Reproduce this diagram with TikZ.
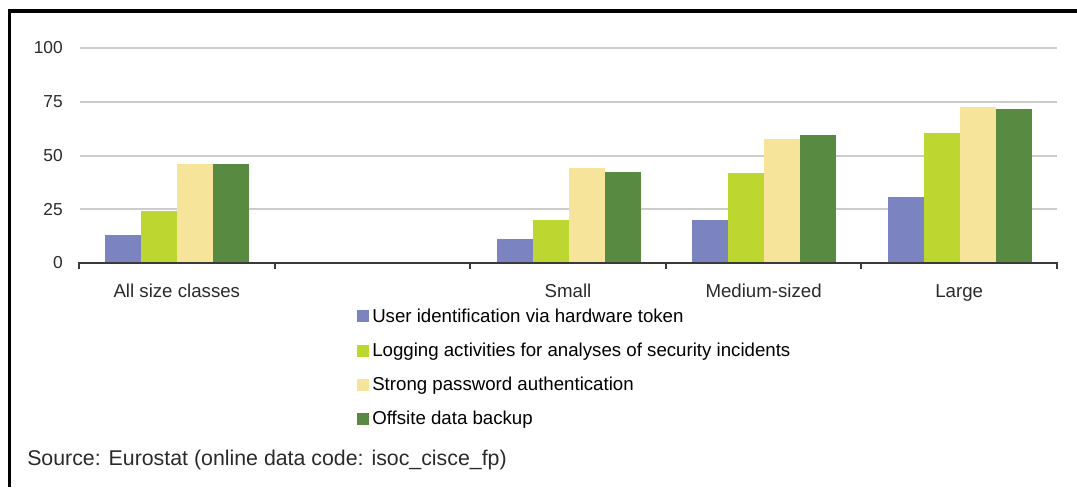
\documentclass[tikz,border=0pt]{standalone}
\usepackage{fontspec}
\setmainfont{Liberation Sans}
\definecolor{cblue}{HTML}{7B84C1}
\definecolor{clime}{HTML}{BDD630}
\definecolor{cyellow}{HTML}{F5E499}
\definecolor{cgreen}{HTML}{588A42}
\definecolor{gridgray}{HTML}{CCCCCC}
\definecolor{axisgray}{HTML}{3A3A3A}
\definecolor{labgray}{HTML}{2A2A2A}
\begin{document}
\begin{tikzpicture}[x=0.75pt,y=-0.75pt,
  gridline/.style={draw=gridgray,line width=1.5pt},
  axisline/.style={draw=axisgray,line width=1.4pt},
  ticklab/.style={font=\fontsize{13}{15}\selectfont,text=labgray,inner sep=0pt,anchor=east},
  catlab/.style={font=\fontsize{14}{16}\selectfont,text=labgray,inner sep=0pt,anchor=base},
  leglab/.style={font=\fontsize{14}{16}\selectfont,text=black,inner sep=0pt,anchor=base west},
  srclab/.style={font=\fontsize{16}{18}\selectfont,text=labgray,inner sep=0pt,anchor=base west}]
\useasboundingbox (0,0) rectangle (1077,487);

% frame (left and top edges)
\draw[black,line width=2.3pt] (9.5,487) -- (9.5,11) -- (1077,11);

% horizontal gridlines and value labels
\foreach \v/\nm in {100/yhundred,75/yseventyfive,50/yfifty,25/ytwentyfive} {
  \draw[gridline] (80,{263-2.15*\v}) -- (1057,{263-2.15*\v});
  \node[ticklab] (\nm) at (63,{263-2.15*\v}) {\v};
}
\node[ticklab] (yzero) at (63,263) {0};

% bars: category index / four values
\foreach \c/\a/\b/\cc/\d in {0/13/24/46/46, 2/11/20/44/42.5, 3/20/42/57.5/59.5, 4/30.5/60.5/72.5/71.5} {
  \pgfmathsetmacro\xx{79+195.6*\c+26.3}
  \fill[cblue]   (\xx,263) rectangle ++(36,{-2.15*\a});
  \fill[clime]   ({\xx+36},263) rectangle ++(36,{-2.15*\b});
  \fill[cyellow] ({\xx+72},263) rectangle ++(36,{-2.15*\cc});
  \fill[cgreen]  ({\xx+108},263) rectangle ++(36,{-2.15*\d});
}

% category axis with ticks
\draw[axisline] (79,263) -- (1057,263);
\foreach \c in {0,...,5} {
  \draw[axisline] ({79+195.6*\c},262) -- ({79+195.6*\c},269);
}

% category labels
\node[catlab] (catall) at (176.8,297) {All size classes};
\node[catlab] (catsmall) at (568,297) {Small};
\node[catlab] (catmedium) at (763.6,297) {Medium-sized};
\node[catlab] (catlarge) at (959.2,297) {Large};

% legend
\foreach \b/\col/\nm/\txt in {322/cblue/legtoken/User identification via hardware token,
  356.5/clime/leglog/Logging activities for analyses of security incidents,
  390.7/cyellow/legpass/Strong password authentication,
  424.9/cgreen/legbackup/Offsite data backup} {
  \fill[\col] (357,\b) rectangle ++(12,-12);
  \node[leglab] (\nm) at (372,\b) {\txt};
}

% source line
\node[srclab] (source) at (27,465) {Source: Eurostat (online data code: isoc\_cisce\_fp)};
\end{tikzpicture}
\end{document}
